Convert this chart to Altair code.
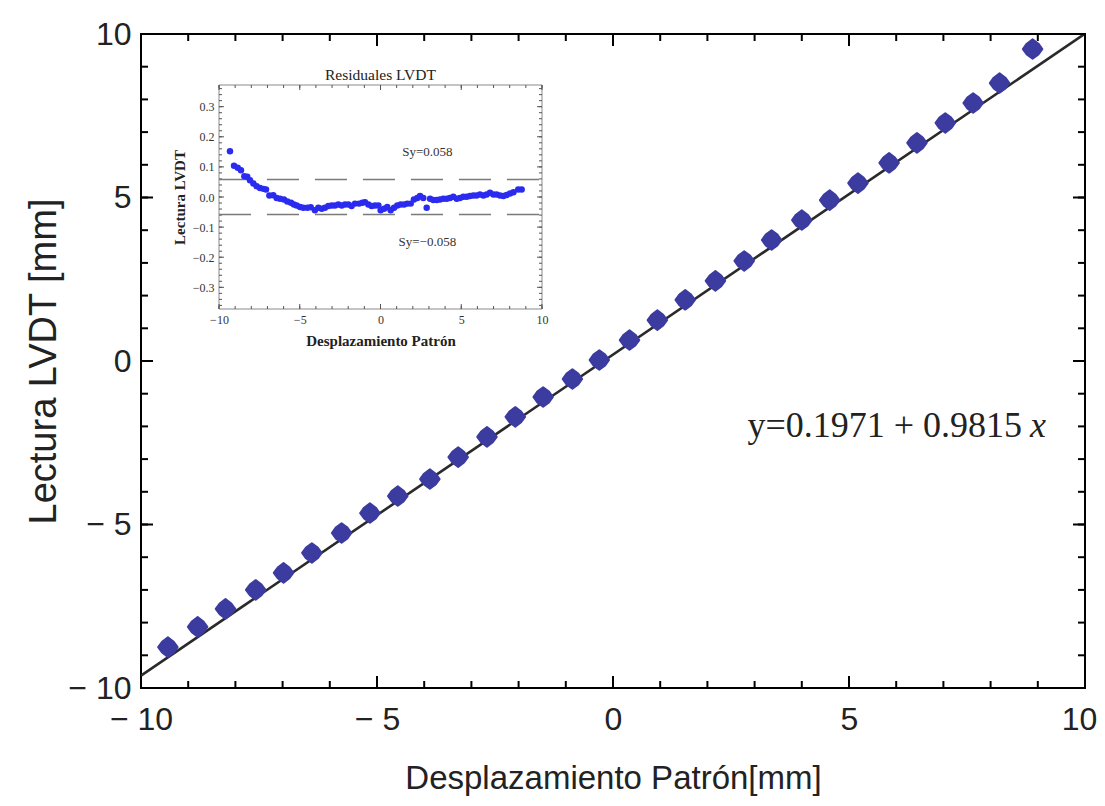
import altair as alt
import pandas as pd

# ---------------- data ----------------
main_x = [-9.43, -8.80, -8.21, -7.57, -6.98, -6.38, -5.75, -5.15, -4.56, -3.88,
          -3.28, -2.67, -2.07, -1.48, -0.86, -0.29, 0.35, 0.94, 1.53, 2.17,
          2.78, 3.36, 4.00, 4.59, 5.19, 5.85, 6.44, 7.04, 7.63, 8.19, 8.89]
main_y = [-8.75, -8.13, -7.58, -7.00, -6.48, -5.87, -5.26, -4.65, -4.13, -3.61,
          -2.94, -2.32, -1.71, -1.10, -0.55, 0.03, 0.64, 1.25, 1.87, 2.45,
          3.06, 3.70, 4.31, 4.92, 5.44, 6.06, 6.67, 7.28, 7.89, 8.50, 9.54]

fit_x = [-10, 10]
fit_y = [-9.62, 10.01]

res_x = [-9.32, -9.07, -8.84, -8.64, -8.43, -8.25, -8.08, -7.87, -7.67, -7.46,
         -7.25, -7.09, -6.88, -6.64, -6.43, -6.22, -5.98, -5.77, -5.54, -5.36,
         -5.19, -4.98, -4.78, -4.53, -4.32, -4.06, -3.85, -3.64, -3.44, -3.23,
         -3.02, -2.82, -2.61, -2.40, -2.20, -1.99, -1.79, -1.58, -1.33, -1.12,
         -0.96, -0.75, -0.55, -0.34, -0.13, 0.01, 0.22, 0.42, 0.63, 0.84,
         1.04, 1.25, 1.46, 1.66, 1.87, 2.07, 2.28, 2.45, 2.65, 2.86,
         3.07, 3.27, 3.48, 3.68, 3.89, 4.10, 4.30, 4.51, 4.72, 4.92,
         5.13, 5.34, 5.54, 5.75, 5.95, 6.16, 6.37, 6.57, 6.78, 6.99,
         7.19, 7.40, 7.61, 7.81, 8.02, 8.23, 8.53, 8.74]
res_y = [0.152, 0.104, 0.097, 0.089, 0.069, 0.067, 0.056, 0.045, 0.036, 0.030,
         0.027, 0.025, 0.005, 0.006, -0.003, -0.006, -0.008, -0.015, -0.019, -0.025,
         -0.028, -0.033, -0.036, -0.036, -0.034, -0.044, -0.036, -0.039, -0.036, -0.030,
         -0.028, -0.028, -0.025, -0.028, -0.025, -0.025, -0.030, -0.022, -0.022, -0.019,
         -0.017, -0.025, -0.030, -0.028, -0.028, -0.044, -0.039, -0.033, -0.044, -0.036,
         -0.028, -0.025, -0.025, -0.022, -0.022, -0.008, -0.003, 0.003, -0.003, -0.036,
         -0.006, -0.010, -0.010, -0.008, -0.006, -0.006, -0.003, 0.001, -0.006, -0.003,
         0.001, 0.001, 0.003, 0.005, 0.005, 0.008, 0.005, 0.008, 0.014, 0.008,
         0.008, 0.005, 0.003, 0.007, 0.012, 0.016, 0.025, 0.025]

sy_levels = [0.058, -0.058]
sy_labels = ["Sy=0.058", "Sy=\u22120.058"]
sy_label_x = [2.9, 2.9]
sy_label_y = [0.15, -0.15]

equation_main = "y=0.1971 + 0.9815"
equation_var = "x"
equation_pos = (8.71, -2.32)

main_major = [-10, -5, 0, 5, 10]
main_minor = list(range(-10, 11))
inset_x_major = [-10, -5, 0, 5, 10]
inset_x_minor = list(range(-10, 11))
inset_y_major = [-0.3, -0.2, -0.1, 0.0, 0.1, 0.2, 0.3]
inset_y_minor = [round(k * 0.02, 2) for k in range(-18, 19)]

# ---------------- layout ----------------
W, H = 944, 654
IX0, IX1, IY0, IY1 = 78, 401, 51, 275  # inset plot rectangle inside the main plot (px)


def mxs():
    return alt.Scale(domain=[-10, 10], nice=False, zero=False)


def mys():
    return alt.Scale(domain=[-10, 10], nice=False, zero=False)


def ixs():
    return alt.Scale(domain=[-10, 10], range=[IX0, IX1], nice=False, zero=False)


def iys():
    return alt.Scale(domain=[-0.372, 0.372], range=[IY1, IY0], nice=False, zero=False)


SANS = "Liberation Sans"
SERIF = "Liberation Serif"
minus_expr = "datum.value < 0 ? '\u2212 ' + format(-datum.value, 'd') : format(datum.value, 'd')"
BLOB = "M0,-1L0.6,-0.55L1,0L0.6,0.55L0,1L-0.6,0.55L-1,0L-0.6,-0.55Z"


def ticks(values, channel, scale, pos, length, color="black", width=2.0):
    df = pd.DataFrame({"v": values})
    m = alt.Chart(df).mark_rule(color=color, strokeWidth=width)
    if channel == "x":
        return m.encode(x=alt.X("v:Q", scale=scale, axis=None),
                        y=alt.value(pos), y2=alt.value(pos + length))
    return m.encode(y=alt.Y("v:Q", scale=scale, axis=None),
                    x=alt.value(pos), x2=alt.value(pos + length))


# ---------------- main plot ----------------
fit_df = pd.DataFrame({"x": fit_x, "y": fit_y})
main_df = pd.DataFrame({"x": main_x, "y": main_y})

fit_line = alt.Chart(fit_df).mark_line(color="#2a2a2a", strokeWidth=2.6, clip=True).encode(
    x=alt.X("x:Q", scale=mxs(),
            axis=alt.Axis(orient="bottom", values=main_major, ticks=False, domain=False, grid=False,
                          labelFont=SANS, labelFontSize=32, labelColor="#222",
                          labelPadding=16, labelFlush=False, labelOverlap=False,
                          labelOffset={"condition": {"test": "datum.value == 10", "value": -6},
                                       "value": 0},
                          labelExpr=minus_expr,
                          title="Desplazamiento Patrón[mm]", titleFont=SANS,
                          titleFontSize=33, titleFontWeight="normal",
                          titleColor="#222", titlePadding=27)),
    y=alt.Y("y:Q", scale=mys(),
            axis=alt.Axis(orient="left", values=main_major, ticks=False, domain=False, grid=False,
                          labelFont=SANS, labelFontSize=32, labelColor="#222",
                          labelPadding=10, labelFlush=False, labelOverlap=False,
                          labelExpr=minus_expr,
                          title="Lectura LVDT [mm]", titleFont=SANS,
                          titleFontSize=38, titleFontWeight="normal",
                          titleColor="#222", titlePadding=4)),
)

main_pts = alt.Chart(main_df).mark_point(
    shape=BLOB, filled=True, size=380, fill="#3b3ba0", stroke="#3b3ba0",
    strokeWidth=2, strokeJoin="round", opacity=1,
).encode(
    x=alt.X("x:Q", scale=mxs(), axis=None),
    y=alt.Y("y:Q", scale=mys(), axis=None),
)

eq_df = pd.DataFrame({"x": [equation_pos[0]], "y": [equation_pos[1]]})
eq1 = alt.Chart(eq_df).mark_text(
    text=equation_main, font=SERIF, fontSize=36, color="#222",
    align="right", baseline="alphabetic", dx=-2,
).encode(x=alt.X("x:Q", scale=mxs(), axis=None), y=alt.Y("y:Q", scale=mys(), axis=None))
eq2 = alt.Chart(eq_df).mark_text(
    text=equation_var, font=SERIF, fontSize=36, fontStyle="italic", color="#222",
    align="left", baseline="alphabetic", dx=6,
).encode(x=alt.X("x:Q", scale=mxs(), axis=None), y=alt.Y("y:Q", scale=mys(), axis=None))

MAJ, MIN = 12, 7
main_ticks = [
    ticks(main_minor, "x", mxs(), H, -MIN), ticks(main_major, "x", mxs(), H, -MAJ),
    ticks(main_minor, "x", mxs(), 0, MIN), ticks(main_major, "x", mxs(), 0, MAJ),
    ticks(main_minor, "y", mys(), 0, MIN), ticks(main_major, "y", mys(), 0, MAJ),
    ticks(main_minor, "y", mys(), W, -MIN), ticks(main_major, "y", mys(), W, -MAJ),
]

# ---------------- inset ----------------
one = pd.DataFrame({"a": [0]})
frame = alt.Chart(one).mark_rect(fill="white", stroke="#8a8a8a", strokeWidth=1).encode(
    x=alt.XDatum(-10, scale=ixs(), axis=None), x2=alt.X2Datum(10),
    y=alt.YDatum(-0.372, scale=iys(), axis=None), y2=alt.Y2Datum(0.372),
)

sy_df = pd.DataFrame({"v": sy_levels})
dashed = alt.Chart(sy_df).mark_rule(color="#7a7a7a", strokeWidth=1.6, strokeDash=[32, 16]).encode(
    y=alt.Y("v:Q", scale=iys(), axis=None),
    x=alt.XDatum(-10, scale=ixs(), axis=None), x2=alt.X2Datum(10),
)

res_df = pd.DataFrame({"x": res_x, "y": res_y})
in_pts = alt.Chart(res_df).mark_circle(size=42, color="#2b2bf0", opacity=1).encode(
    x=alt.X("x:Q", scale=ixs(),
            axis=alt.Axis(orient="bottom", offset=-(H - IY1), values=inset_x_major,
                          ticks=False, domain=False, grid=False,
                          labelFont=SERIF, labelFontSize=12, labelColor="#333",
                          labelPadding=5, labelFlush=False, labelOverlap=False,
                          format="d",
                          title="Desplazamiento Patrón", titleFont=SERIF,
                          titleFontSize=15, titleFontWeight="bold",
                          titleColor="#222", titlePadding=8)),
    y=alt.Y("y:Q", scale=iys(),
            axis=alt.Axis(orient="left", offset=-IX0, values=inset_y_major,
                          ticks=False, domain=False, grid=False,
                          labelFont=SERIF, labelFontSize=12, labelColor="#333",
                          labelPadding=5, labelFlush=False, labelOverlap=False,
                          format=".1f",
                          title="Lectura LVDT", titleFont=SERIF,
                          titleFontSize=15, titleFontWeight="bold",
                          titleColor="#222", titlePadding=5)),
)

lab_df = pd.DataFrame({"x": sy_label_x, "y": sy_label_y, "t": sy_labels})
sy_text = alt.Chart(lab_df).mark_text(font=SERIF, fontSize=13, color="#333").encode(
    x=alt.X("x:Q", scale=ixs(), axis=None),
    y=alt.Y("y:Q", scale=iys(), axis=None),
    text="t:N",
)

title_df = pd.DataFrame({"x": [0], "t": ["Residuales LVDT"]})
in_title = alt.Chart(title_df).mark_text(
    font=SERIF, fontSize=15.5, color="#222", baseline="alphabetic"
).encode(
    x=alt.X("x:Q", scale=ixs(), axis=None),
    y=alt.value(IY0 - 5),
    text="t:N",
)

IMAJ, IMIN = 5, 3
TC = "#555"
in_ticks = [
    ticks(inset_x_minor, "x", ixs(), IY1, -IMIN, TC, 1), ticks(inset_x_major, "x", ixs(), IY1, -IMAJ, TC, 1),
    ticks(inset_x_minor, "x", ixs(), IY0, IMIN, TC, 1), ticks(inset_x_major, "x", ixs(), IY0, IMAJ, TC, 1),
    ticks(inset_y_minor, "y", iys(), IX0, IMIN, TC, 1), ticks(inset_y_major, "y", iys(), IX0, IMAJ, TC, 1),
    ticks(inset_y_minor, "y", iys(), IX1, -IMIN, TC, 1), ticks(inset_y_major, "y", iys(), IX1, -IMAJ, TC, 1),
]

chart = alt.layer(
    fit_line, *main_ticks, main_pts, eq1, eq2,
    frame, *in_ticks, dashed, in_pts, sy_text, in_title,
).resolve_scale(
    x="independent", y="independent"
).properties(
    width=W, height=H,
    autosize=alt.AutoSizeParams(type="none"),
    padding={"left": 133, "top": 26, "right": 12, "bottom": 110},
    background="white",
).configure_view(stroke="black", strokeWidth=2)

chart.save("out.html", embed_options={"renderer": "svg", "actions": False})
